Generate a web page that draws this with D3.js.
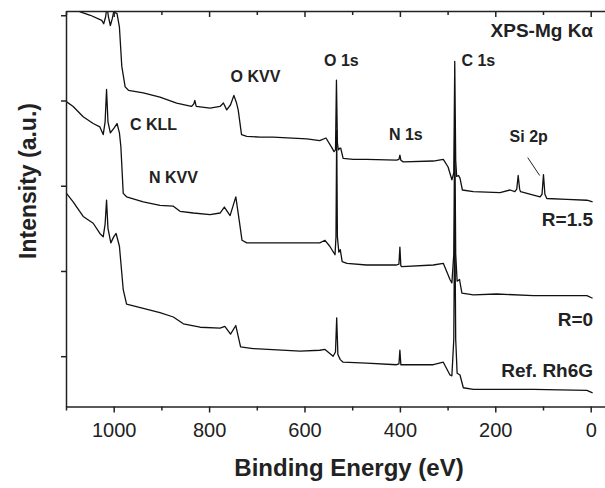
<!DOCTYPE html>
<html>
<head>
<meta charset="utf-8">
<script src="https://d3js.org/d3.v7.min.js"></script>
<style>
  body { margin: 0; background: #fff; }
  svg text { font-family: "Liberation Sans", Arial, sans-serif; fill: #222; }
</style>
</head>
<body>
<div id="my_dataviz"></div>
<script>

// binding energy (eV) vs intensity (a.u., offset curves)
var seriesR15 = [[1100,5.25],[1085,5.10],[1070,5.04],[1049,5.00],[1025,4.94],[1021,4.90],[1017,4.98],[1014,5.10],[1011,4.98],[1007,4.88],[1003,4.96],[1000,5.04],[993,5.02],[988,4.86],[983,4.40],[976,4.16],[969,4.12],[938,4.09],[903,4.04],[868,3.97],[837,3.93],[832,3.96],[830,4.00],[827,3.93],[798,3.91],[777,3.93],[770,3.97],[763,3.89],[755,3.95],[748,4.06],[743,3.98],[739,3.89],[732,3.60],[721,3.58],[693,3.57],[666,3.57],[595,3.55],[568,3.53],[555,3.56],[543,3.45],[538,3.40],[535,3.42],[533,4.24],[531,3.50],[529,3.42],[526,3.44],[524,3.44],[519,3.32],[498,3.31],[470,3.31],[407,3.30],[402,3.31],[400,3.36],[398,3.30],[393,3.28],[330,3.29],[309,3.31],[299,3.22],[291,3.07],[287,3.15],[285,4.46],[283,3.30],[281,3.11],[277,3.12],[274,3.09],[269,2.95],[246,2.93],[190,2.92],[169,2.95],[159,2.93],[155,2.96],[152,3.12],[149,2.96],[147,2.93],[120,2.89],[106,2.87],[102,2.90],[99,3.13],[96,2.90],[92,2.85],[50,2.84],[8,2.83],[-4,2.81]];

var seriesR0 = [[1100,3.99],[1085,3.93],[1064,3.81],[1043,3.73],[1029,3.69],[1022,3.60],[1018,3.75],[1015,4.13],[1012,3.75],[1007,3.62],[999,3.68],[993,3.73],[988,3.62],[985,3.46],[980,2.91],[973,2.87],[938,2.81],[903,2.77],[875,2.76],[861,2.70],[833,2.68],[798,2.66],[777,2.68],[768,2.75],[756,2.65],[744,2.87],[737,2.60],[731,2.36],[721,2.33],[672,2.33],[602,2.33],[568,2.33],[557,2.36],[547,2.29],[536,2.19],[534,2.40],[532.5,3.65],[531,2.40],[528,2.22],[525,2.25],[521,2.11],[511,2.09],[470,2.07],[407,2.07],[402,2.08],[400,2.28],[398,2.06],[396,2.05],[330,2.07],[309,2.09],[295,1.90],[291,1.86],[287,2.20],[285,3.77],[283,2.20],[280,1.88],[275,1.90],[270,1.74],[246,1.72],[197,1.73],[120,1.71],[8,1.71],[-4,1.68]];

var seriesRef = [[1099,2.91],[1085,2.81],[1064,2.64],[1043,2.56],[1029,2.44],[1022,2.40],[1018,2.55],[1015,2.83],[1012,2.50],[1006,2.33],[1000,2.40],[995,2.44],[988,2.29],[980,1.78],[973,1.61],[938,1.56],[903,1.51],[875,1.46],[854,1.38],[819,1.34],[777,1.33],[767,1.35],[755,1.26],[744,1.36],[734,1.11],[708,1.09],[609,1.06],[568,1.07],[557,1.08],[540,1.00],[535,1.05],[532.5,1.45],[530,1.02],[525,0.96],[519,0.93],[470,0.92],[407,0.90],[402,0.91],[400,1.07],[398,0.90],[396,0.90],[330,0.90],[309,0.93],[295,0.78],[291,0.77],[287,1.20],[285,2.83],[283,1.20],[280,0.80],[274,0.78],[267,0.63],[246,0.61],[120,0.61],[8,0.60],[-4,0.57]];

var xMajorTicks = [1000, 800, 600, 400, 200, 0];
var xMinorTicks = [1100, 900, 700, 500, 300, 100];
var yTicks = [1, 2, 3, 4, 5];

// peak / curve labels: [text, energy, intensity, anchor, size]
var peakLabels = [
  ["O KVV", 755, 4.22, "start", 16],
  ["C KLL", 966, 3.65, "start", 16],
  ["N KVV", 926, 3.03, "start", 16],
  ["O 1s", 559, 4.41, "start", 16],
  ["C 1s", 271, 4.41, "start", 16],
  ["N 1s", 423, 3.54, "start", 16],
  ["Si 2p", 170, 3.51, "start", 16],
  ["XPS-Mg K\u03b1", -5, 4.74, "end", 19],
  ["R=1.5", -5, 2.53, "end", 19],
  ["R=0", -5, 1.36, "end", 19],
  ["Ref. Rh6G", -5, 0.76, "end", 19]
];

var W = 605, H = 488;
var plot = {left: 66, right: 605, top: 11, bottom: 406.5};

var svg = d3.select("#my_dataviz")
  .append("svg")
    .attr("width", W)
    .attr("height", H);

var x = d3.scaleLinear().domain([1100, -30]).range([plot.left, plot.right]);
var y = d3.scaleLinear().domain([0.41, 5.05]).range([plot.bottom, plot.top]);

svg.append("clipPath").attr("id", "clip")
  .append("rect")
    .attr("x", plot.left).attr("y", plot.top)
    .attr("width", plot.right - plot.left + 5)
    .attr("height", plot.bottom - plot.top);

var line = d3.line()
  .x(function(d) { return x(d[0]); })
  .y(function(d) { return y(d[1]); });

svg.append("g")
  .attr("clip-path", "url(#clip)")
  .selectAll("path")
  .data([seriesR15, seriesR0, seriesRef])
  .enter()
  .append("path")
    .attr("d", line)
    .attr("fill", "none")
    .attr("stroke", "#111")
    .attr("stroke-width", 1.3)
    .attr("stroke-linejoin", "round");

// axes
function styleAxis(g) {
  g.select(".domain").attr("stroke", "#222").attr("stroke-width", 1.5);
  g.selectAll(".tick line").attr("stroke", "#222").attr("stroke-width", 1.5);
}

svg.append("g")
  .attr("transform", "translate(0," + plot.bottom + ")")
  .call(d3.axisBottom(x).tickValues(xMajorTicks).tickFormat(d3.format("d")).tickSize(6).tickPadding(10).tickSizeOuter(0))
  .call(styleAxis)
  .call(function(g) {
    g.selectAll("text").attr("font-size", 20).attr("fill", "#222")
      .attr("font-family", "Liberation Sans, Arial, sans-serif");
  });

svg.append("g")
  .attr("transform", "translate(0," + plot.bottom + ")")
  .call(d3.axisBottom(x).tickValues(xMinorTicks).tickSize(4).tickFormat("").tickSizeOuter(0))
  .call(styleAxis)
  .call(function(g) { g.select(".domain").remove(); });

// top mirror axis, ticks pointing in
svg.append("g")
  .attr("transform", "translate(0," + plot.top + ")")
  .call(d3.axisBottom(x).tickValues(xMajorTicks).tickSize(6).tickFormat("").tickSizeOuter(0))
  .call(styleAxis);

svg.append("g")
  .attr("transform", "translate(0," + plot.top + ")")
  .call(d3.axisBottom(x).tickValues(xMinorTicks).tickSize(4).tickFormat("").tickSizeOuter(0))
  .call(styleAxis)
  .call(function(g) { g.select(".domain").remove(); });

svg.append("g")
  .attr("transform", "translate(" + plot.left + ",0)")
  .call(d3.axisLeft(y).tickValues(yTicks).tickSize(5).tickFormat("").tickSizeOuter(0))
  .call(styleAxis);

// axis titles
svg.append("text")
  .attr("x", 349)
  .attr("y", 476)
  .attr("text-anchor", "middle")
  .attr("font-size", 24)
  .attr("font-weight", "bold")
  .text("Binding Energy (eV)");

svg.append("text")
  .attr("transform", "translate(36,181) rotate(-90)")
  .attr("text-anchor", "middle")
  .attr("font-size", 23)
  .attr("font-weight", "bold")
  .text("Intensity (a.u.)");

// labels
svg.append("g")
  .selectAll("text")
  .data(peakLabels)
  .enter()
  .append("text")
    .attr("x", function(d) { return x(d[1]); })
    .attr("y", function(d) { return y(d[2]); })
    .attr("text-anchor", function(d) { return d[3]; })
    .attr("font-size", function(d) { return d[4]; })
    .attr("font-weight", "bold")
    .text(function(d) { return d[0]; });

// Si 2p leader line
svg.append("line")
  .attr("x1", x(132)).attr("y1", y(3.33))
  .attr("x2", x(107)).attr("y2", y(3.12))
  .attr("stroke", "#222")
  .attr("stroke-width", 1);

</script>
</body>
</html>
